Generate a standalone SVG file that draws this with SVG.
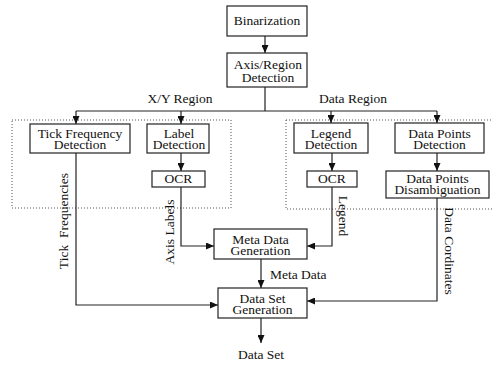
<svg xmlns="http://www.w3.org/2000/svg" width="493" height="366" viewBox="0 0 493 366">
<defs>
<marker id="ah" markerUnits="userSpaceOnUse" markerWidth="9" markerHeight="7" refX="8" refY="3.5" orient="auto">
<path d="M0,0 L8,3.5 L0,7 z" fill="#111"/>
</marker>
<style>
text{font-family:"Liberation Serif","Times New Roman",serif;font-size:13.5px;fill:#111}
.c{text-anchor:middle}
rect.n{fill:#fff;stroke:#222;stroke-width:1.2}
.dot{fill:none;stroke:#555;stroke-width:1;stroke-dasharray:1,2}
.ln{fill:none;stroke:#222;stroke-width:1.2}
.ar{marker-end:url(#ah)}
</style>
</defs>
<rect class="dot" x="12" y="120" width="219" height="88"/>
<rect class="dot" x="286" y="120" width="210" height="89"/>
<g id="connectors">
<path class="ln ar" d="M265,36 V53"/>
<path class="ln" d="M265,87 V111 M76,111 H437"/>
<path class="ln ar" d="M76,111 V124"/>
<path class="ln ar" d="M181,111 V124"/>
<path class="ln ar" d="M331,111 V123"/>
<path class="ln ar" d="M437,111 V123"/>
<path class="ln ar" d="M181,153 V171"/>
<path class="ln ar" d="M332,153 V171"/>
<path class="ln ar" d="M437,153 V171"/>
<path class="ln ar" d="M76,153 V305 H218"/>
<path class="ln ar" d="M181,187 V246 H214"/>
<path class="ln ar" d="M332,187 V246 H307"/>
<path class="ln ar" d="M437,198 V301 H307"/>
<path class="ln ar" d="M261,259 V288"/>
<path class="ln ar" d="M261,318 V343"/>
</g>
<g id="labels">
<text class="c" x="180" y="103">X/Y Region</text>
<text class="c" x="353" y="103">Data Region</text>
<text x="270" y="279">Meta Data</text>
<text class="c" x="261" y="359">Data Set</text>
<text transform="translate(68,221) rotate(-90)" class="c" xml:space="preserve">Tick  Frequencies</text>
<text transform="translate(174,232) rotate(-90)" class="c">Axis Labels</text>
<text transform="translate(339,216) rotate(90)" class="c">Legend</text>
<text transform="translate(445,251) rotate(90)" class="c">Data Cordinates</text>
</g>
<g id="binarization">
<rect class="n" x="227" y="6" width="80" height="30"/>
<text class="c" x="267" y="25">Binarization</text>
</g>
<g id="axis-region">
<rect class="n" x="227" y="53" width="80" height="34"/>
<text class="c" x="268" y="69">Axis/Region</text>
<text class="c" x="268" y="82">Detection</text>
</g>
<g id="tick-frequency">
<rect class="n" x="30" y="124" width="100" height="29"/>
<text class="c" x="80" y="138">Tick Frequency</text>
<text class="c" x="80" y="149">Detection</text>
</g>
<g id="label-detection">
<rect class="n" x="147" y="124" width="62" height="29"/>
<text class="c" x="179" y="138">Label</text>
<text class="c" x="179" y="149">Detection</text>
</g>
<g id="ocr-labels">
<rect class="n" x="152" y="171" width="53" height="16"/>
<text class="c" x="178.5" y="183">OCR</text>
</g>
<g id="legend-detection">
<rect class="n" x="294" y="123" width="74" height="30"/>
<text class="c" x="331" y="138">Legend</text>
<text class="c" x="331" y="149">Detection</text>
</g>
<g id="data-points-detection">
<rect class="n" x="395" y="123" width="89" height="30"/>
<text class="c" x="439.5" y="138">Data Points</text>
<text class="c" x="439.5" y="149">Detection</text>
</g>
<g id="ocr-legend">
<rect class="n" x="307" y="171" width="50" height="16"/>
<text class="c" x="332" y="183">OCR</text>
</g>
<g id="data-points-disambiguation">
<rect class="n" x="386" y="171" width="103" height="27"/>
<text class="c" x="437.5" y="183">Data Points</text>
<text class="c" x="437.5" y="194">Disambiguation</text>
</g>
<g id="meta-data-generation">
<rect class="n" x="214" y="229" width="93" height="30"/>
<text class="c" x="260.5" y="244">Meta Data</text>
<text class="c" x="260.5" y="255">Generation</text>
</g>
<g id="data-set-generation">
<rect class="n" x="218" y="288" width="89" height="30"/>
<text class="c" x="262.5" y="303">Data Set</text>
<text class="c" x="262.5" y="314">Generation</text>
</g>
</svg>
